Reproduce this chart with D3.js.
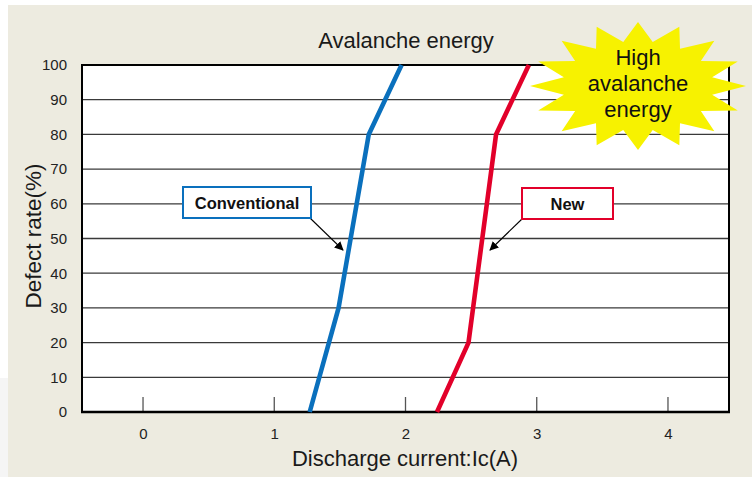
<!DOCTYPE html>
<html>
<head>
<meta charset="utf-8">
<script src="https://cdn.jsdelivr.net/npm/d3@7"></script>
<style>
  html, body { margin: 0; padding: 0; background: #ffffff; }
  svg { display: block; font-family: "Liberation Sans", Arial, sans-serif; }
</style>
</head>
<body>
<svg id="chart" width="752" height="477"></svg>
<script>
// Defect rate vs. discharge current for the two device generations
const rateTicks = [0, 10, 20, 30, 40, 50, 60, 70, 80, 90, 100];
const currentTicks = [0, 1, 2, 3, 4];

const conventionalRate = [0, 30, 80, 100];
const conventionalCurrent = [1.27, 1.49, 1.72, 1.97];

const newRate = [0, 20, 80, 100];
const newCurrent = [2.24, 2.48, 2.69, 2.94];

const seriesNames = ["Conventional", "New"];
const seriesColors = ["#0a70bd", "#e2002a"];

const titleText = "Avalanche energy";
const xTitle = "Discharge current:Ic(A)";
const yTitle = "Defect rate(%)";
const burstLines = ["High", "avalanche", "energy"];

const svg = d3.select("#chart");

// panel background
svg.append("rect").attr("x", 8).attr("y", 5).attr("width", 744).attr("height", 472).attr("fill", "#edebe0");
svg.append("rect").attr("x", 0).attr("y", 378).attr("width", 8).attr("height", 99).attr("fill", "#f5f5f5");

const plot = { left: 82, top: 65, right: 729, bottom: 412 };

const x = d3.scaleLinear().domain([-0.465, 4.465]).range([plot.left, plot.right]);
const y = d3.scaleLinear().domain([0, 100]).range([plot.bottom, plot.top]);

svg.append("rect")
  .attr("x", plot.left).attr("y", plot.top)
  .attr("width", plot.right - plot.left).attr("height", plot.bottom - plot.top)
  .attr("fill", "#ffffff");

// horizontal grid lines
svg.append("g").selectAll("line")
  .data(rateTicks.filter(d => d > 0 && d < 100))
  .join("line")
  .attr("x1", plot.left).attr("x2", plot.right)
  .attr("y1", d => y(d)).attr("y2", d => y(d))
  .attr("stroke", "#3a3a3a").attr("stroke-width", 1.3);

// y axis labels
const yAxis = d3.axisLeft(y).tickValues(rateTicks).tickFormat(d3.format("d")).tickSize(0).tickPadding(15);
const gy = svg.append("g").attr("transform", `translate(${plot.left},0)`).call(yAxis);
gy.select(".domain").remove();
gy.selectAll("text").attr("font-size", 15).attr("fill", "#222").attr("font-family", "Liberation Sans, Arial, sans-serif");

// x axis: inward ticks rising from the baseline
const xAxis = d3.axisBottom(x).tickValues(currentTicks).tickFormat(d3.format("d")).tickSize(0).tickPadding(16);
const gx = svg.append("g").attr("transform", `translate(0,${plot.bottom})`).call(xAxis);
gx.select(".domain").remove();
gx.selectAll("text").attr("font-size", 15).attr("fill", "#222").attr("font-family", "Liberation Sans, Arial, sans-serif");
svg.append("g").selectAll("line")
  .data(currentTicks)
  .join("line")
  .attr("x1", d => x(d)).attr("x2", d => x(d))
  .attr("y1", plot.bottom).attr("y2", plot.bottom - 15)
  .attr("stroke", "#555").attr("stroke-width", 1.3);

// plot frame
svg.append("rect")
  .attr("x", plot.left).attr("y", plot.top)
  .attr("width", plot.right - plot.left).attr("height", plot.bottom - plot.top)
  .attr("fill", "none").attr("stroke", "#000").attr("stroke-width", 2);
svg.append("line")
  .attr("x1", plot.left - 1).attr("x2", plot.right + 1)
  .attr("y1", plot.bottom).attr("y2", plot.bottom)
  .attr("stroke", "#000").attr("stroke-width", 2.6);

// series lines
const line = d3.line().x(d => x(d[0])).y(d => y(d[1]));
const series = [
  d3.zip(conventionalCurrent, conventionalRate),
  d3.zip(newCurrent, newRate)
];
svg.append("g").selectAll("path")
  .data(series)
  .join("path")
  .attr("d", line)
  .attr("fill", "none")
  .attr("stroke", (d, i) => seriesColors[i])
  .attr("stroke-width", 4.6)
  .attr("stroke-linejoin", "miter");

// callout labels with arrows
const defs = svg.append("defs");
defs.append("marker")
  .attr("id", "arrowHead")
  .attr("viewBox", "0 0 10 10")
  .attr("refX", 9).attr("refY", 5)
  .attr("markerWidth", 9).attr("markerHeight", 9)
  .attr("markerUnits", "userSpaceOnUse")
  .attr("orient", "auto")
  .append("path").attr("d", "M0,0 L10,5 L0,10 Z").attr("fill", "#000");

const callouts = [
  { box: [183, 187, 128, 31], from: [310, 218], to: [343, 250] },
  { box: [522, 188, 91, 31], from: [522, 219], to: [490, 250] }
];
callouts.forEach((c, i) => {
  svg.append("line")
    .attr("x1", c.from[0]).attr("y1", c.from[1])
    .attr("x2", c.to[0]).attr("y2", c.to[1])
    .attr("stroke", "#000").attr("stroke-width", 1.1)
    .attr("marker-end", "url(#arrowHead)");
  svg.append("rect")
    .attr("x", c.box[0]).attr("y", c.box[1])
    .attr("width", c.box[2]).attr("height", c.box[3])
    .attr("fill", "#fff")
    .attr("stroke", seriesColors[i]).attr("stroke-width", 2);
  svg.append("text")
    .attr("x", c.box[0] + c.box[2] / 2).attr("y", c.box[1] + c.box[3] / 2 + 6)
    .attr("text-anchor", "middle")
    .attr("font-size", 16.5).attr("font-weight", "bold").attr("fill", "#111")
    .text(seriesNames[i]);
});

// titles
svg.append("text")
  .attr("x", 406).attr("y", 48)
  .attr("text-anchor", "middle").attr("font-size", 22).attr("fill", "#1a1a1a")
  .text(titleText);
svg.append("text")
  .attr("x", 405).attr("y", 466)
  .attr("text-anchor", "middle").attr("font-size", 22).attr("fill", "#1a1a1a")
  .text(xTitle);
svg.append("text")
  .attr("transform", "translate(41,236) rotate(-90)")
  .attr("text-anchor", "middle").attr("font-size", 22.5).attr("fill", "#1a1a1a")
  .text(yTitle);

// starburst badge
const burst = { cx: 638, cy: 86, rx: 108, ry: 64, inner: 0.7, points: 16 };
const burstPts = d3.range(burst.points * 2).map(k => {
  const a = -Math.PI / 2 + k * Math.PI / burst.points;
  const r = k % 2 === 0 ? 1 : burst.inner;
  return [burst.cx + Math.cos(a) * burst.rx * r, burst.cy + Math.sin(a) * burst.ry * r];
});
svg.append("path")
  .attr("d", d3.line()(burstPts) + "Z")
  .attr("fill", "#f7f200");
svg.append("g").selectAll("text")
  .data(burstLines)
  .join("text")
  .attr("x", burst.cx)
  .attr("y", (d, i) => 65 + i * 26)
  .attr("text-anchor", "middle")
  .attr("font-size", 22).attr("fill", "#111")
  .text(d => d);
</script>
</body>
</html>
